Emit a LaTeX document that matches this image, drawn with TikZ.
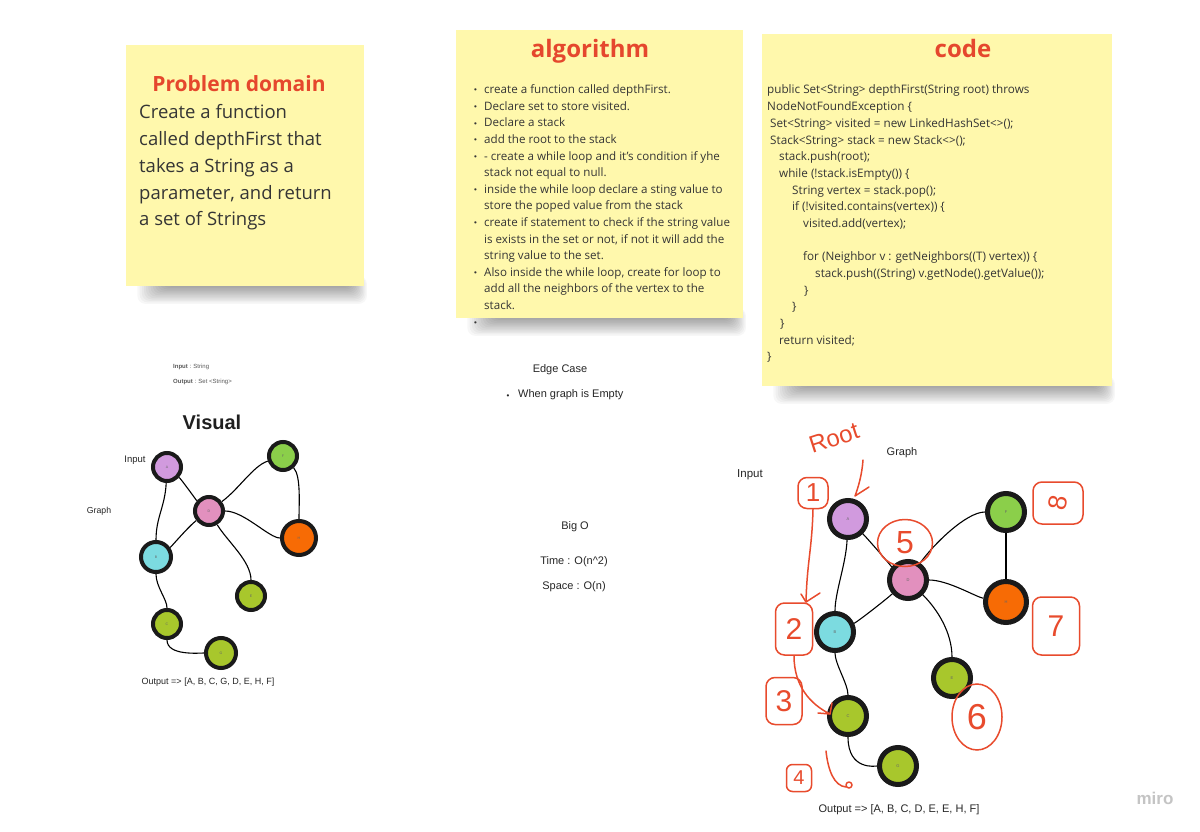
\documentclass[tikz,border=0pt]{standalone}
\usepackage{fontspec}
\setmainfont{Open Sans}
\newfontfamily\arial{Liberation Sans}
\usetikzlibrary{arrows.meta,shapes.geometric}
\definecolor{sticky}{HTML}{FFF8AC}
\definecolor{titlered}{HTML}{E5472D}
\definecolor{txt}{HTML}{353535}
\definecolor{pen}{HTML}{E84B2D}
\definecolor{nborder}{HTML}{1A1A1A}
\definecolor{cA}{HTML}{D19ADE}
\definecolor{cD}{HTML}{E290BE}
\definecolor{cF}{HTML}{8BCF4A}
\definecolor{cH}{HTML}{F76B05}
\definecolor{cB}{HTML}{7CDBE0}
\definecolor{cE}{HTML}{A8C72C}
\definecolor{logo}{HTML}{C4C4C4}
\pgfdeclarelayer{bg}
\pgfdeclarelayer{edges}
\pgfsetlayers{bg,edges,main}
\tikzset{
  note/.style={fill=sticky, draw=none, anchor=north west, inner sep=0pt},
  notetitle/.style={anchor=base, text=titlered, font=\bfseries\fontsize{24}{28}\selectfont},
  notebody/.style={anchor=base west, text=txt, inner sep=0pt},
  lbl/.style={text=black!85, font=\arial\fontsize{11}{13}\selectfont, inner sep=0pt},
  gsmall/.style={circle, draw=nborder, line width=4pt, minimum size=28pt, inner sep=0pt, text=black!60, font=\arial\fontsize{3.5}{4}\selectfont},
  gbig/.style={circle, draw=nborder, line width=5pt, minimum size=37pt, inner sep=0pt, text=black!60, font=\arial\fontsize{4}{4}\selectfont},
  edge/.style={draw=black, line width=1.1pt},
  penline/.style={draw=pen, line width=1.5pt, line cap=round, line join=round},
  penbox/.style={draw=pen, line width=1.5pt, rounded corners=9pt, inner sep=0pt, text=pen, font=\arial\fontsize{26}{26}\selectfont},
  penloop/.style={draw=pen, line width=1.5pt, ellipse, inner sep=0pt, text=pen, font=\arial\fontsize{30}{30}\selectfont},
  dot/.style={anchor=base, inner sep=0pt, text=txt, font=\arial\fontsize{8}{8}\selectfont},
}
\begin{document}
\begin{tikzpicture}[x=1pt,y=-1pt]
\useasboundingbox (0,0) rectangle (1200,832);
\begin{pgfonlayer}{bg}
\fill[white] (0,0) rectangle (1200,832);
% ---------- shadows ----------
\foreach \xa/\xb/\yb in {126/364/286, 456/743/318, 762/1112/386}{
  \foreach \k in {0,...,13}{
    \fill[black, opacity=0.032, rounded corners=8pt] (\xa+40-2.2*\k, \yb-10) rectangle (\xb-14+\k*1.3, \yb-1+1.45*\k);
  }
}
% ---------- sticky notes ----------
\node[note, minimum width=238pt, minimum height=241pt] (pdnote) at (126,45) {};
\node[note, minimum width=287pt, minimum height=288pt] (algnote) at (456,30) {};
\node[note, minimum width=350pt, minimum height=352pt] (codenote) at (762,34) {};
\end{pgfonlayer}

% Problem domain
\node[notetitle, font=\bfseries\fontsize{21}{24}\selectfont] (pdtitle) at (239,92) {Problem domain};
\foreach \t [count=\i] in {{Create a function},{called depthFirst that},{takes a String as a},{parameter, and return},{a set of Strings}}{
  \node[notebody, font=\fontsize{18.5}{21}\selectfont] (pd\i) at (139,{119+(\i-1)*26.7}) {\t};
}

% algorithm
\node[notetitle] (algtitle) at (590,58) {algorithm};
\foreach \b/\t [count=\i] in {
  1/{create a function called depthFirst.},
  1/{Declare set to store visited.},
  1/{Declare a stack},
  1/{add the root to the stack},
  1/{- create a while loop and it's condition if yhe},
  0/{stack not equal to null.},
  1/{inside the while loop declare a sting value to},
  0/{store the poped value from the stack},
  1/{create if statement to check if the string value},
  0/{is exists in the set or not, if not it will add the},
  0/{string value to the set.},
  1/{Also inside the while loop, create for loop to},
  0/{add all the neighbors of the vertex to the},
  0/{stack.},
  1/{}}{
  \node[notebody, font=\fontsize{11.6}{13}\selectfont] (alg\i) at (484,{93.7+(\i-1)*16.6}) {\t};
  \ifnum\b=1
    \node[dot] (algb\i) at (475.5,{93+(\i-1)*16.6}) {•};
  \fi
}

% code
\node[notetitle] (codetitle) at (963,58) {code};
\foreach \x/\k/\t in {
  767/0/{public Set<String> depthFirst(String root) throws},
  767/1/{NodeNotFoundException \{},
  770/2/{Set<String> visited = new LinkedHashSet<>();},
  770/3/{Stack<String> stack = new Stack<>();},
  779/4/{stack.push(root);},
  779/5/{while (!stack.isEmpty()) \{},
  792/6/{String vertex = stack.pop();},
  792/7/{if (!visited.contains(vertex)) \{},
  803/8/{visited.add(vertex);},
  803/10/{for (Neighbor v : getNeighbors((T) vertex)) \{},
  815/11/{stack.push((String) v.getNode().getValue());},
  804/12/{\}},
  792/13/{\}},
  780/14/{\}},
  779/15/{return visited;},
  767/16/{\}}}{
  \node[notebody, font=\fontsize{11.7}{13}\selectfont] (code\k) at (\x,{94+\k*16.67}) {\t};
}

% ---------- small input / output ----------
\node[anchor=base west, inner sep=0pt, text=black!65, font=\arial\fontsize{6}{7}\selectfont] (inp) at (173,368) {\textbf{Input} : String};
\node[anchor=base west, inner sep=0pt, text=black!65, font=\arial\fontsize{6}{7}\selectfont] (outp) at (173,383) {\textbf{Output} : Set <String>};

% ---------- Visual (left graph) ----------
\node[inner sep=0pt, text=black!88, font=\arial\bfseries\fontsize{20}{22}\selectfont] (visual) at (212,422) {Visual};
\node[lbl, font=\arial\fontsize{9.5}{11}\selectfont] (linput) at (135,460) {Input};
\node[lbl, font=\arial\fontsize{8.7}{10}\selectfont] (lgraph) at (99,511) {Graph};
\node[lbl, font=\arial\fontsize{9}{10}\selectfont] (lout) at (208,682) {Output => [A, B, C, G, D, E, H, F]};

\node[gsmall, fill=cA] (lA) at (167,467) {A};
\node[gsmall, fill=cD] (lD) at (209,511) {D};
\node[gsmall, fill=cF] (lF) at (283,456) {F};
\node[gsmall, fill=cH, minimum size=34pt] (lH) at (299,538) {H};
\node[gsmall, fill=cB, minimum size=30pt] (lB) at (156,557) {B};
\node[gsmall, fill=cE] (lE) at (251,596) {E};
\node[gsmall, fill=cE] (lC) at (167,624) {C};
\node[gsmall, fill=cE, minimum size=30pt] (lG) at (221,653) {G};

\begin{pgfonlayer}{edges}
\draw[edge] (lA) .. controls +(14,12) and +(-12,-10) .. (lD);
\draw[edge] (lA) .. controls +(-2,40) and +(0,-40) .. (lB);
\draw[edge] (lD) .. controls +(30,-22) and +(-30,10) .. (lF);
\draw[edge] (lF) .. controls +(18,20) and +(0,-35) .. (lH);
\draw[edge] (lD) .. controls +(35,0) and +(-30,0) .. (lH);
\draw[edge] (lD) .. controls +(-20,15) and +(15,-10) .. (lB);
\draw[edge] (lD) .. controls +(18,30) and +(0,-35) .. (lE);
\draw[edge] (lB) .. controls +(0,30) and +(0,-25) .. (lC);
\draw[edge] (lC) .. controls +(0,32) and +(-22,0) .. (lG);
\end{pgfonlayer}

% ---------- middle texts ----------
\node[lbl] (edgecase) at (560,370) {Edge Case};
\node[dot, text=black!85] (ecb) at (508,398) {•};
\node[lbl, anchor=west] (ec1) at (518,395) {When graph is Empty};
\node[lbl] (bigo) at (575,527) {Big O};
\node[lbl] (time) at (574,562) {Time : O(n\^{}2)};
\node[lbl] (space) at (574,587) {Space : O(n)};

% ---------- right graph ----------
\node[lbl] (rgraph) at (902,453) {Graph};
\node[lbl, font=\arial\fontsize{11.5}{13}\selectfont] (rinput) at (750,475) {Input};
\node[lbl] (rout) at (899,810) {Output => [A, B, C, D, E, E, H, F]};

\node[gbig, fill=cA] (rA) at (848,519) {A};
\node[gbig, fill=cD] (rD) at (908,580) {D};
\node[gbig, fill=cF] (rF) at (1006,512) {F};
\node[gbig, fill=cH, minimum size=41pt] (rH) at (1006,602) {H};
\node[gbig, fill=cB] (rB) at (835,632) {B};
\node[gbig, fill=cE] (rE) at (952,678) {E};
\node[gbig, fill=cE] (rC) at (848,716) {C};
\node[gbig, fill=cE] (rG) at (898,766) {G};

\begin{pgfonlayer}{edges}
\draw[edge] (rA) .. controls +(20,20) and +(-15,-12) .. (rD);
\draw[edge] (rA) .. controls +(-2,45) and +(0,-40) .. (rB);
\draw[edge] (rD) .. controls +(25,-35) and +(-40,0) .. (rF);
\draw[edge] (rF) -- (rH);
\draw[edge] (rD) .. controls +(40,0) and +(-30,-5) .. (rH);
\draw[edge] (rD) .. controls +(-25,22) and +(22,-10) .. (rB);
\draw[edge] (rD) .. controls +(30,30) and +(0,-45) .. (rE);
\draw[edge] (rB) .. controls +(0,32) and +(0,-32) .. (rC);
\draw[edge] (rC) .. controls +(0,55) and +(-22,0) .. (rG);
\end{pgfonlayer}

% ---------- red handwritten annotations ----------
\node[text=pen, rotate=18, inner sep=0pt, font=\arial\fontsize{24}{24}\selectfont] (root) at (834,438) {Root};
\coordinate (rootTip) at (855,496);
\draw[penline] (863,460) .. controls (862,475) and (858,488) .. (rootTip) -- (869,487);

\node[penbox, minimum width=30pt, minimum height=31pt] (n1) at (813,493) {1};
\node[penbox, minimum width=37pt, minimum height=52pt, font=\arial\fontsize{30}{30}\selectfont] (n2) at (794,629) {2};
\node[penbox, minimum width=36pt, minimum height=47pt, font=\arial\fontsize{30}{30}\selectfont] (n3) at (784,701) {3};
\node[penbox, minimum width=25pt, minimum height=27pt, rounded corners=6pt, font=\arial\fontsize{20}{20}\selectfont] (n4) at (799,778) {4};
\node[penloop, minimum width=55pt, minimum height=47pt, font=\arial\fontsize{32}{32}\selectfont] (n5) at (905,543) {5};
\node[penloop, minimum width=50pt, minimum height=66pt, font=\arial\fontsize{36}{36}\selectfont] (n6) at (977,717) {6};
\node[penbox, minimum width=47pt, minimum height=58pt, font=\arial\fontsize{30}{30}\selectfont] (n7) at (1056,626) {7};
\node[penbox, minimum width=50pt, minimum height=42pt] (n8) at (1058,503) {\rotatebox{80}{8}};

\coordinate (t1) at (806,602);
\draw[penline] (n1.south) .. controls +(-1,40) and +(1,-40) .. (t1) -- (820,593);
\draw[penline] (t1) -- (801,594);
\coordinate (t2) at (830,714);
\draw[penline] (n2.south) .. controls +(0,30) and +(-20,-10) .. (t2) -- (818,713);
\draw[penline] (t2) -- (832,703);
\coordinate (t4) at (846,787);
\draw[penline] (826,751) .. controls (828,770) and (834,786) .. (t4);
\draw[penline] (849,785) circle[radius=3pt];

% ---------- logo ----------
\node[text=logo, font=\arial\bfseries\fontsize{17}{17}\selectfont] (miro) at (1155,798) {miro};
\end{tikzpicture}
\end{document}
